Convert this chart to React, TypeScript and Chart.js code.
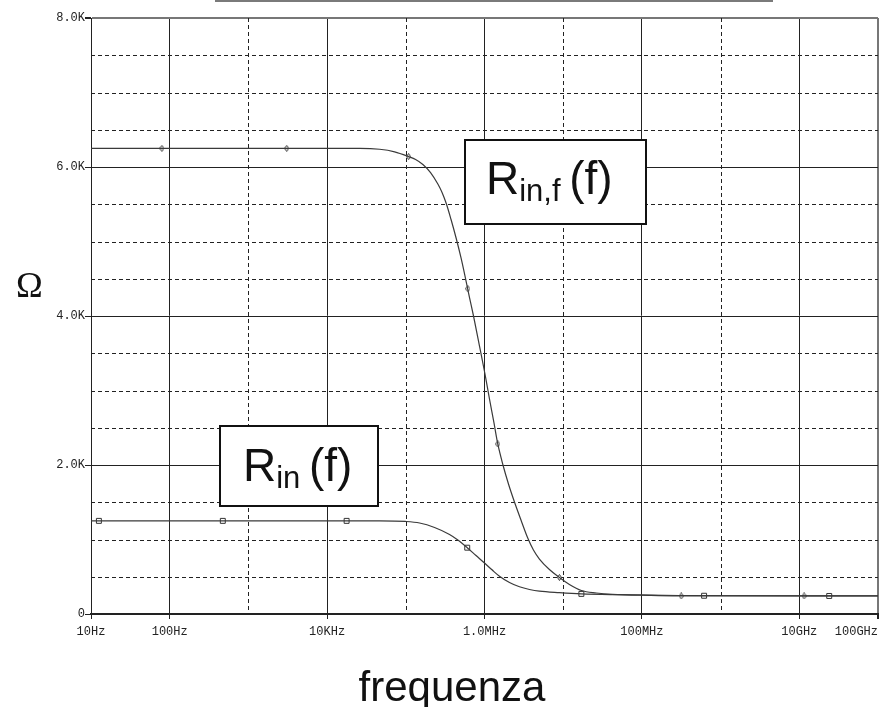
import React, { useEffect, useRef } from 'react';
import { Chart, registerables } from 'chart.js';

Chart.register(...registerables);

// ---- data (frequency in Hz, resistance in ohm) ----
const rinfFreq = [10, 2.593e4, 4.65e4, 7.211e4, 1.085e5, 1.332e5, 1.648e5, 2.064e5, 2.555e5, 2.889e5, 3.266e5, 3.758e5, 4.374e5, 5.034e5, 5.741e5, 6.45e5, 7.252e5, 8.64e5, 1.0088e6, 1.157e6, 1.32e6, 1.475e6, 1.717e6, 2.017e6, 2.403e6, 2.906e6, 3.544e6, 4.186e6, 4.989e6, 6.681e6, 8.95e6, 1.199e7, 1.702e7, 2.638e7, 4.211e7, 1.241e8, 5.35e8, 1e11];
const rinfOhm = [6250, 6250, 6238, 6204, 6140, 6101, 6034, 5926, 5772, 5658, 5510, 5295, 5040, 4779, 4503, 4248, 4000, 3597, 3235, 2886, 2564, 2282, 2000, 1745, 1503, 1262, 1020, 859, 738, 597, 490, 396, 315, 282, 264, 251, 242, 242];

const rinFreq = [10, 4.65e4, 9.94e4, 1.497e5, 2.32e5, 3.596e5, 4.583e5, 6.033e5, 7.801e5, 1.0088e6, 1.245e6, 1.55e6, 2.077e6, 2.782e6, 3.725e6, 4.989e6, 8.95e6, 1.702e7, 5.167e7, 2.983e8, 1e11];
const rinOhm = [1250, 1250, 1242, 1221, 1161, 1067, 993, 890, 785, 681, 593, 507, 423, 365, 329, 306, 286, 270, 259, 248, 242];

const rinfMarkerFreq = [79.6, 3070, 1.085e5, 6.138e5, 1.475e6, 8.95e6, 3.16e8, 1.15e10];
const rinfMarkerOhm = [6250, 6250, 6140, 4366, 2282, 490, 242, 242];
const rinMarkerFreq = [12.6, 473, 1.77e4, 6.033e5, 1.702e7, 6.17e8, 2.4e10];
const rinMarkerOhm = [1250, 1250, 1250, 890, 270, 245, 242];

const xMajorTicks = [10, 100, 1e4, 1e6, 1e8, 1e10, 1e11];
const xTickLabels = ['10Hz', '100Hz', '10KHz', '1.0MHz', '100MHz', '10GHz', '100GHz'];
const xDashedGrid = [1e3, 1e5, 1e7, 1e9];
const yMajorTicks = [0, 2000, 4000, 6000, 8000];
const yTickLabels = ['0', '2.0K', '4.0K', '6.0K', '8.0K'];
const yDashedGrid = [500, 1000, 1500, 2500, 3000, 3500, 4500, 5000, 5500, 6500, 7000, 7500];

const yAxisLabel = 'Ω';
const xAxisLabel = 'frequenza';

const noteMain = ['R', 'R'];
const noteSub = ['in,f', 'in'];
const noteTail = ['(f)', '(f)'];
const noteFreq = [5.57e5, 421];
const noteOhm = [6376, 2537];

const X_MIN = 10;
const X_MAX = 1e11;

const toPoints = (xs: number[], ys: number[]) => xs.map((x, i) => ({ x, y: ys[i] }));

function makeDiamond(): HTMLCanvasElement {
  const c = document.createElement('canvas');
  c.width = 5;
  c.height = 7;
  const g = c.getContext('2d')!;
  g.fillStyle = '#fff';
  g.strokeStyle = '#333';
  g.lineWidth = 1;
  g.beginPath();
  g.moveTo(2.5, 0.5);
  g.lineTo(4.5, 3.5);
  g.lineTo(2.5, 6.5);
  g.lineTo(0.5, 3.5);
  g.closePath();
  g.fill();
  g.stroke();
  return c;
}

const decorPlugin = {
  id: 'decor',
  beforeDatasetsDraw(chart: any) {
    const { ctx, chartArea } = chart;
    const xs = chart.scales.x;
    const ys = chart.scales.y;
    ctx.save();
    ctx.beginPath();
    ctx.rect(chartArea.left, chartArea.top, chartArea.right - chartArea.left, chartArea.bottom - chartArea.top);
    ctx.clip();
    ctx.strokeStyle = '#222';
    ctx.lineWidth = 1;
    ctx.setLineDash([4, 3]);
    xDashedGrid.forEach((v) => {
      const px = Math.round(xs.getPixelForValue(v)) + 0.5;
      ctx.beginPath();
      ctx.moveTo(px, chartArea.top);
      ctx.lineTo(px, chartArea.bottom);
      ctx.stroke();
    });
    yDashedGrid.forEach((v) => {
      const py = Math.round(ys.getPixelForValue(v)) + 0.5;
      ctx.beginPath();
      ctx.moveTo(chartArea.left, py);
      ctx.lineTo(chartArea.right, py);
      ctx.stroke();
    });
    ctx.restore();
  },
  afterDraw(chart: any) {
    const { ctx } = chart;
    const xs = chart.scales.x;
    const ys = chart.scales.y;
    ctx.save();
    // cropped frame edge at the very top
    ctx.strokeStyle = '#7a7a7a';
    ctx.lineWidth = 2;
    ctx.beginPath();
    ctx.moveTo(215, 1);
    ctx.lineTo(773, 1);
    ctx.stroke();

    // annotation boxes
    const boxW = [183, 160];
    const boxH = [86, 82];
    const padL = [22, 24];
    const baseOff = [55, 56];
    noteMain.forEach((main, i) => {
      const x0 = Math.round(xs.getPixelForValue(noteFreq[i]));
      const y0 = Math.round(ys.getPixelForValue(noteOhm[i]));
      ctx.fillStyle = '#fff';
      ctx.fillRect(x0, y0, boxW[i], boxH[i]);
      ctx.lineWidth = 2;
      ctx.strokeStyle = '#111';
      ctx.setLineDash([]);
      ctx.strokeRect(x0 + 1, y0 + 1, boxW[i] - 2, boxH[i] - 2);
      ctx.fillStyle = '#111';
      ctx.textBaseline = 'alphabetic';
      ctx.textAlign = 'left';
      let cx = x0 + padL[i];
      const by = y0 + baseOff[i];
      ctx.font = '46px "Liberation Sans", Arial, sans-serif';
      ctx.fillText(main, cx, by);
      cx += ctx.measureText(main).width;
      ctx.font = '31px "Liberation Sans", Arial, sans-serif';
      ctx.fillText(noteSub[i], cx, by + 7);
      cx += ctx.measureText(noteSub[i] + ' ').width;
      ctx.font = '46px "Liberation Sans", Arial, sans-serif';
      ctx.fillText(noteTail[i], cx, by);
    });

    // axis titles
    ctx.fillStyle = '#111';
    ctx.font = '36px "Liberation Serif", "Times New Roman", serif';
    ctx.textAlign = 'left';
    ctx.textBaseline = 'alphabetic';
    ctx.fillText(yAxisLabel, 16, 297);
    ctx.font = '42px "Liberation Sans", Arial, sans-serif';
    ctx.textAlign = 'center';
    ctx.fillText(xAxisLabel, 452, 701);
    ctx.restore();
  },
};

export default function App() {
  const ref = useRef<HTMLCanvasElement | null>(null);

  useEffect(() => {
    if (!ref.current) return;
    const diamond = makeDiamond();
    const chart = new Chart(ref.current, {
      type: 'line',
      data: {
        datasets: [
          {
            label: 'Rin,f',
            data: toPoints(rinfFreq, rinfOhm),
            borderColor: '#3a3a3a',
            borderWidth: 1.2,
            pointRadius: 0,
            cubicInterpolationMode: 'monotone',
            fill: false,
          },
          {
            label: 'Rin',
            data: toPoints(rinFreq, rinOhm),
            borderColor: '#3a3a3a',
            borderWidth: 1.2,
            pointRadius: 0,
            cubicInterpolationMode: 'monotone',
            fill: false,
          },
          {
            label: 'Rin,f markers',
            data: toPoints(rinfMarkerFreq, rinfMarkerOhm),
            showLine: false,
            pointStyle: diamond,
            pointRadius: 3,
          },
          {
            label: 'Rin markers',
            data: toPoints(rinMarkerFreq, rinMarkerOhm),
            showLine: false,
            pointStyle: 'rect',
            pointRadius: 3.5,
            pointBackgroundColor: '#fff',
            pointBorderColor: '#333',
            pointBorderWidth: 1,
          },
        ],
      },
      options: {
        animation: false,
        responsive: false,
        events: [],
        layout: { padding: { left: 0, top: 18, right: 4, bottom: 0 } },
        plugins: {
          legend: { display: false },
          tooltip: { enabled: false },
          title: { display: false },
        },
        scales: {
          x: {
            type: 'logarithmic',
            min: X_MIN,
            max: X_MAX,
            afterBuildTicks: (scale: any) => {
              scale.ticks = [{ value: 1 }, ...xMajorTicks.map((v) => ({ value: v }))];
            },
            afterFit: (scale: any) => {
              scale.height = 93;
              scale.paddingLeft = 0;
              scale.paddingRight = 0;
            },
            ticks: {
              autoSkip: false,
              maxRotation: 0,
              minRotation: 0,
              align: 'inner',
              padding: 6,
              color: '#222',
              font: { family: '"Liberation Mono", "DejaVu Sans Mono", monospace', size: 12 },
              callback: (value: any) => {
                const i = xMajorTicks.indexOf(Number(value));
                return i >= 0 ? xTickLabels[i] : '';
              },
            },
            grid: {
              drawTicks: true,
              tickLength: 5,
              color: (c: any) =>
                !c.tick || c.tick.value < X_MIN ? 'rgba(0,0,0,0)' : c.tick.value === X_MAX ? '#777' : '#222',
              lineWidth: (c: any) => (c.tick && c.tick.value === X_MAX ? 2 : 1),
              tickColor: (c: any) => (!c.tick || c.tick.value < X_MIN ? 'rgba(0,0,0,0)' : '#222'),
            },
            border: { display: true, color: '#222', width: 2 },
          },
          y: {
            type: 'linear',
            min: 0,
            max: 8000,
            afterBuildTicks: (scale: any) => {
              scale.ticks = yMajorTicks.map((v) => ({ value: v }));
            },
            afterFit: (scale: any) => {
              scale.width = 91;
              scale.paddingTop = 0;
              scale.paddingBottom = 0;
            },
            ticks: {
              padding: 0,
              color: '#222',
              font: { family: '"Liberation Mono", "DejaVu Sans Mono", monospace', size: 12 },
              callback: (value: any) => {
                const i = yMajorTicks.indexOf(Number(value));
                return i >= 0 ? yTickLabels[i] : '';
              },
            },
            grid: {
              drawTicks: true,
              tickLength: 6,
              color: (c: any) => (c.tick && c.tick.value === 8000 ? '#777' : '#222'),
              lineWidth: (c: any) => (c.tick && c.tick.value === 8000 ? 2 : 1),
              tickColor: '#222',
            },
            border: { display: true, color: '#222', width: 1 },
          },
        },
      } as any,
      plugins: [decorPlugin],
    });
    return () => chart.destroy();
  }, []);

  return (
    <div style={{ position: 'absolute', left: 0, top: 0, width: 883, height: 707, background: '#fff' }}>
      <canvas ref={ref} width={883} height={707} style={{ display: 'block' }} />
    </div>
  );
}
